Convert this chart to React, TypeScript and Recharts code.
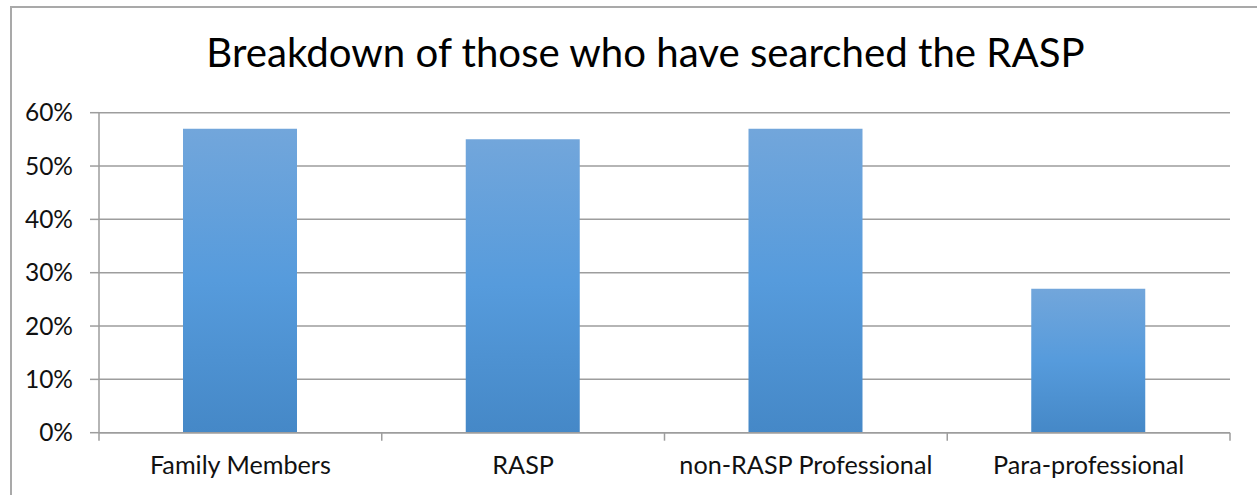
import { BarChart, Bar, XAxis, YAxis, CartesianGrid } from 'recharts';

// share of each group that has searched the register
const categories = ['Family Members', 'RASP', 'non-RASP Professional', 'Para-professional'];
const searched = [0.57, 0.55, 0.57, 0.27];
const percentTicks = [0, 0.1, 0.2, 0.3, 0.4, 0.5, 0.6];

const data = categories.map((name, i) => ({ name, searched: searched[i] }));

const FONT = 'Lato, "Open Sans", sans-serif';
const LINE_GREY = '#9d9d9d';

// category label plus the tick marks on the band edges (Excel style)
function CategoryTick(props: any) {
  const { x, y, payload, index } = props;
  const half = payload?.offset ?? 0;
  return (
    <g>
      <line x1={x - half} x2={x - half} y1={y - 8} y2={y} stroke={LINE_GREY} strokeWidth={1.5} />
      {index === categories.length - 1 && (
        <line x1={x + half} x2={x + half} y1={y - 8} y2={y} stroke={LINE_GREY} strokeWidth={1.5} />
      )}
      <text x={x} y={y} dy={33.5} textAnchor="middle" fontSize={25.2} fill="#111" fontFamily={FONT}>
        {payload.value}
      </text>
    </g>
  );
}

export default function App() {
  return (
    <div
      style={{
        position: 'absolute',
        left: 0,
        top: 0,
        width: 1257,
        height: 495,
        background: '#fff',
        overflow: 'hidden',
      }}
    >
      <div
        style={{
          position: 'absolute',
          left: 10,
          top: 6,
          width: 1300,
          height: 600,
          border: '2px solid #a9a9a9',
        }}
      />
      <svg width={1257} height={495} style={{ position: 'absolute', left: 0, top: 0 }}>
        <text x={645.5} y={66.7} textAnchor="middle" fontSize={40.2} fill="#000" fontFamily={FONT}>
          Breakdown of those who have searched the RASP
        </text>
      </svg>
      <div style={{ position: 'absolute', left: 0, top: 0 }}>
        <BarChart
          width={1257}
          height={495}
          data={data}
          margin={{ top: 112.7, right: 27, bottom: 0, left: 0 }}
        >
          <defs>
            <linearGradient id="barFill" x1="0" y1="0" x2="0" y2="1">
              <stop offset="0%" stopColor="#72a6db" />
              <stop offset="50%" stopColor="#569bdc" />
              <stop offset="100%" stopColor="#4588c7" />
            </linearGradient>
          </defs>
          <CartesianGrid vertical={false} stroke={LINE_GREY} strokeWidth={1.5} />
          <XAxis
            dataKey="name"
            height={62.3}
            axisLine={{ stroke: LINE_GREY, strokeWidth: 1.5 }}
            tickLine={false}
            tickSize={8}
            tickMargin={0}
            interval={0}
            tick={<CategoryTick />}
          />
          <YAxis
            width={99}
            domain={[0, 0.6]}
            ticks={percentTicks}
            interval={0}
            tickFormatter={(v: number) => `${Math.round(v * 100)}%`}
            axisLine={{ stroke: LINE_GREY, strokeWidth: 1.5 }}
            tickLine={{ stroke: LINE_GREY, strokeWidth: 1.5 }}
            tickSize={9}
            tickMargin={17}
            tick={{ fontSize: 24.5, fill: '#111', fontFamily: FONT }}
          />
          <Bar dataKey="searched" barSize={114} fill="url(#barFill)" isAnimationActive={false} />
        </BarChart>
      </div>
    </div>
  );
}
